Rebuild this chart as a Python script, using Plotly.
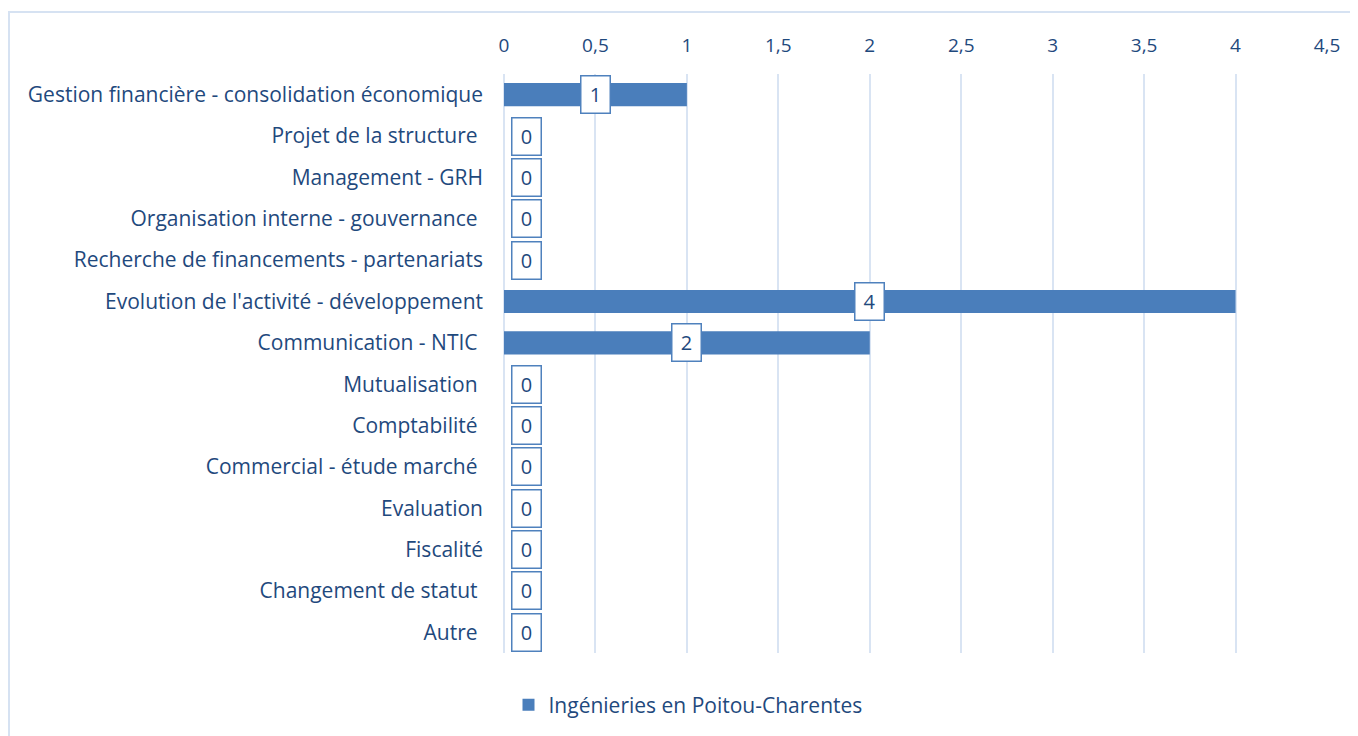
import plotly.graph_objects as go

categories = [
    "Gestion financière - consolidation économique",
    "Projet de la structure\u00a0",
    "Management - GRH",
    "Organisation interne - gouvernance\u00a0",
    "Recherche de financements - partenariats",
    "Evolution de l'activité - développement",
    "Communication - NTIC\u00a0",
    "Mutualisation\u00a0",
    "Comptabilité\u00a0",
    "Commercial - étude marché\u00a0",
    "Evaluation",
    "Fiscalité",
    "Changement de statut\u00a0",
    "Autre\u00a0",
]
values = [1, 0, 0, 0, 0, 4, 2, 0, 0, 0, 0, 0, 0, 0]
series_name = "Ingénieries en Poitou-Charentes"

TEXT = "#1F497D"
BAR = "#4A7EBB"
GRID = "#D9E4F3"
FONT = "Open Sans"
FS = 20

# plot area in figure pixels (page offset of 8px removed)
L, R, T, B = 496, 1319, 66, 645
W, H = R - L, B - T

fig = go.Figure()
fig.add_trace(go.Bar(
    y=categories, x=values, orientation="h", name=series_name,
    marker=dict(color=BAR, line=dict(width=0)),
    showlegend=True,
))

for c, v in zip(categories, values):
    common = dict(y=c, xref="x", yref="y", text=str(v), showarrow=False,
                  font=dict(family=FONT, size=FS, color=TEXT),
                  bgcolor="white", bordercolor="#4F81BD", borderwidth=1.5,
                  width=26, height=34, borderpad=1)
    if v == 0:
        fig.add_annotation(x=0, xanchor="left", xshift=7, **common)
    else:
        fig.add_annotation(x=v / 2, xanchor="center", **common)

# outer chart border (top and left visible)
fig.add_shape(type="rect", xref="paper", yref="paper",
              x0=(1 - L) / W, x1=(1400 - L) / W,
              y0=(B - 800) / H, y1=(B - 4) / H,
              line=dict(color="#D6E2F2", width=2), fillcolor="rgba(0,0,0,0)", layer="below")

fig.update_layout(
    width=1358, height=736,
    margin=dict(l=L, r=1358 - R, t=T, b=736 - B),
    paper_bgcolor="white", plot_bgcolor="white",
    separators=", ",
    bargap=0.44,
    font=dict(family=FONT, size=FS, color=TEXT),
    xaxis=dict(side="top", range=[0, 4.5], dtick=0.5, tick0=0,
               showgrid=True, gridcolor=GRID, gridwidth=2,
               zeroline=True, zerolinecolor=GRID, zerolinewidth=2,
               showline=False, ticks="", ticklabelstandoff=17,
               tickfont=dict(family=FONT, size=FS - 1, color=TEXT), fixedrange=True),
    yaxis=dict(autorange="reversed", showgrid=False, showline=False, ticks="",
               ticklabelstandoff=20,
               tickfont=dict(family=FONT, size=21, color=TEXT)),
    legend=dict(orientation="h", x=(680 - L) / W, xanchor="center",
                y=(B - 697) / H, yanchor="middle",
                font=dict(family=FONT, size=21, color=TEXT)),
)

fig.write_html("out.html")
